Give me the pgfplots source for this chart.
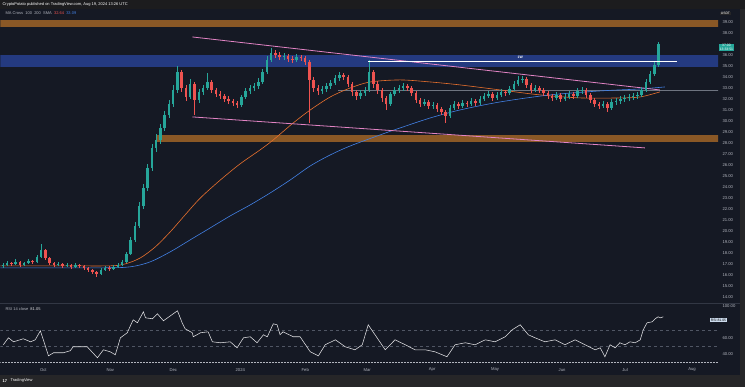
\documentclass[border=0pt]{standalone}
\usepackage{pgfplots}
\pgfplotsset{compat=1.18}
\usepackage{pgfplotstable}
\usepackage{fontspec}
\setmainfont{Liberation Sans}
\definecolor{chartbg}{RGB}{21,25,36}
\definecolor{framec}{RGB}{38,38,40}
\definecolor{headc}{RGB}{28,28,30}
\definecolor{sepc}{RGB}{50,55,68}
\definecolor{lblc}{RGB}{178,181,190}
\definecolor{upc}{RGB}{38,166,154}
\definecolor{dnc}{RGB}{239,83,80}
\definecolor{bandor}{RGB}{138,88,38}
\definecolor{bandbl}{RGB}{36,58,128}
\definecolor{maor}{RGB}{232,112,45}
\definecolor{mabl}{RGB}{66,128,228}
\definecolor{pinkc}{RGB}{226,132,196}
\definecolor{grayln}{RGB}{110,116,128}
\definecolor{rsic}{RGB}{225,225,228}
\definecolor{lvlc}{RGB}{80,86,100}
\newcommand{\lbl}{\fontsize{4.2}{5}\selectfont}
\pgfplotstableread{
i o h l c
0 44 47 42 45
1 45 49 44 47
2 47 48 44 46
3 46 51 45 48
4 48 49 43 45
5 45 48 44 47
6 47 51 46 49
7 49 50 46 48
8 48 55 47 53
9 53 66 52 60
10 60 61 50 52
11 52 53 45 47
12 47 48 43 45
13 45 48 44 46
14 46 47 42 44
15 44 47 43 45
16 45 46 41 43
17 43 47 42 45
18 45 46 42 44
19 44 45 40 42
20 42 43 38 40
21 40 41 36 38
22 38 39 33 36
23 36 42 35 40
24 40 44 39 42
25 42 44 39 41
26 41 45 40 43
27 43 47 42 45
28 45 50 44 48
29 48 58 47 56
30 56 73 55 70
31 70 88 68 84
32 84 108 82 104
33 104 126 101 122
34 122 146 119 142
35 142 166 139 162
36 162 176 158 170
37 170 186 166 182
38 182 199 179 195
39 195 210 192 206
40 206 225 203 220
41 220 244 217 238
42 238 240 218 222
43 222 225 209 213
44 213 231 211 226
45 226 228 195 210
46 210 221 207 218
47 218 225 215 222
48 222 237 220 228
49 228 230 217 220
50 220 222 213 216
51 216 219 211 214
52 214 216 208 211
53 211 214 206 209
54 209 211 204 207
55 207 209 202 205
56 205 215 203 213
57 213 222 211 219
58 219 225 216 222
59 222 227 219 224
60 224 232 221 228
61 228 241 226 238
62 238 254 236 250
63 250 262 248 257
64 257 260 252 255
65 255 258 250 253
66 253 257 250 254
67 254 256 248 251
68 251 254 247 250
69 250 256 248 253
70 253 255 249 252
71 252 254 245 248
72 248 250 187 230
73 230 233 218 222
74 222 225 215 219
75 219 224 216 221
76 221 227 218 224
77 224 230 221 227
78 227 235 225 232
79 232 238 229 235
80 235 237 230 233
81 233 235 223 226
82 226 228 214 218
83 218 220 210 214
84 214 220 211 217
85 217 223 214 220
86 220 250 218 238
87 238 240 222 226
88 226 229 216 220
89 220 222 208 212
90 212 214 200 206
91 206 218 204 216
92 216 223 214 220
93 220 225 217 222
94 222 227 219 224
95 224 226 219 222
96 222 224 214 217
97 217 219 207 210
98 210 212 203 206
99 206 211 204 208
100 208 210 201 204
101 204 208 201 205
102 205 207 198 201
103 201 203 195 198
104 198 200 187 194
105 194 205 192 202
106 202 209 200 206
107 206 208 201 204
108 204 210 202 207
109 207 209 203 206
110 206 212 204 209
111 209 211 204 207
112 207 214 205 211
113 211 217 209 214
114 214 219 212 216
115 216 218 209 212
116 212 218 210 215
117 215 221 213 218
118 218 220 214 217
119 217 224 215 221
120 221 229 219 226
121 226 234 224 230
122 230 234 227 231
123 231 233 222 225
124 225 227 217 220
125 220 225 218 222
126 222 224 217 220
127 220 222 214 217
128 217 219 211 214
129 214 216 209 212
130 212 218 210 215
131 215 217 208 211
132 211 216 209 213
133 213 219 211 216
134 216 218 211 214
135 214 222 212 219
136 219 223 216 220
137 220 222 212 215
138 215 217 207 210
139 210 212 203 206
140 206 208 201 204
141 204 209 202 206
142 206 208 198 202
143 202 211 200 208
144 208 212 205 209
145 209 214 206 211
146 211 215 208 212
147 212 216 209 213
148 213 217 210 214
149 214 218 211 215
150 215 223 213 220
151 220 231 218 228
152 228 239 226 236
153 236 248 234 245
154 245 268 243 266
}\candles
\pgfplotsset{
  candle/.style 2 args={#1, only marks, mark=none, mark size=0pt, forget plot,
    error bars/.cd, y dir=both, y explicit, error mark=none,
    error bar style={color=#1, line width=#2, line cap=butt}},
}
\begin{document}
\begin{tikzpicture}
\fill[chartbg] (0pt,0pt) rectangle (745pt,387pt);
\fill[framec] (0pt,0pt) rectangle (745pt,12pt);
\fill[framec] (740pt,0pt) rectangle (745pt,387pt);
\fill[headc] (0pt,378pt) rectangle (745pt,387pt);
\draw[sepc, line width=0.8pt] (0pt,83pt) -- (740pt,83pt);
% ---------- price pane ----------
\begin{axis}[
  at={(0pt,83pt)}, anchor=south west, scale only axis,
  width=718pt, height=295pt,
  xmin=-0.587, xmax=167.96, ymin=6, ymax=301,
  axis line style={draw=none}, tick style={draw=none},
  major tick length=0pt,
  xtick=\empty,
  ytick={13,24,...,288},
  yticklabels={14.00,15.00,16.00,17.00,18.00,19.00,20.00,21.00,22.00,23.00,24.00,25.00,26.00,27.00,28.00,29.00,30.00,31.00,32.00,33.00,34.00,35.00,36.00,{},38.00,39.00},
  yticklabel pos=right,
  yticklabel style={font=\lbl, text=lblc, anchor=west, xshift=1pt},
  /pgf/number format/assume math mode=true,
  clip=true,
]
% zones
\addplot[fill=bandor, draw=none, forget plot] coordinates {(-2,283) (170,283) (170,289.5) (-2,289.5)};
\addplot[fill=bandbl, draw=none, forget plot] coordinates {(-2,243) (170,243) (170,255) (-2,255)};
\addplot[fill=bandor, draw=none, forget plot] coordinates {(36.3,168) (170,168) (170,175) (36.3,175)};
% horizontal levels
\addplot[grayln, line width=1.1pt, forget plot] coordinates {(78.8,219) (170,219)};
% moving averages
\addplot[maor, line width=0.6pt, smooth, forget plot] coordinates {
(-0.6,44) (13.5,44) (25.2,44) (28.8,46) (32.3,52) (35.8,63) (39.3,78) (42.8,95) (46.4,112)
(51.1,130) (55.7,146) (60.4,160) (63.5,170) (68.2,187) (72.2,200) (76.9,213) (81.6,222)
(86.3,228) (93.3,230) (100.3,228) (107.4,225) (116.8,220) (126.2,215) (135.6,212) (145.0,212)
(149.7,213) (154.3,218)};
\addplot[mabl, line width=0.6pt, smooth, forget plot] coordinates {
(-0.6,42) (22.9,42) (29.9,43) (34.6,48) (39.3,58) (44.0,70) (48.7,82) (53.4,94) (58.1,105)
(62.8,117) (67.5,130) (72.2,144) (76.9,155) (81.6,164) (88.6,175) (93.3,182) (100.4,192)
(107.4,200) (116.8,208) (128.5,215) (140.3,219) (149.7,221) (155.5,223)};
% trendlines
\addplot[pinkc, line width=0.8pt, forget plot] coordinates {(44.5,273) (154.3,220)};
\addplot[pinkc, line width=0.8pt, forget plot] coordinates {(44.5,193) (150.8,162)};
% candles: wicks
\addplot[candle={upc}{0.5pt}]
  table[x=i, y expr={ifthenelse(\thisrow{c}>\thisrow{o},(\thisrow{h}+\thisrow{l})/2,-1000)},
        y error expr={(\thisrow{h}-\thisrow{l})/2}] {\candles};
\addplot[candle={dnc}{0.5pt}]
  table[x=i, y expr={ifthenelse(\thisrow{c}<\thisrow{o},(\thisrow{h}+\thisrow{l})/2,-1000)},
        y error expr={(\thisrow{h}-\thisrow{l})/2}] {\candles};
% candles: bodies
\addplot[candle={upc}{2.5pt}]
  table[x=i, y expr={ifthenelse(\thisrow{c}>\thisrow{o},(\thisrow{o}+\thisrow{c})/2,-1000)},
        y error expr={abs(\thisrow{c}-\thisrow{o})/2}] {\candles};
\addplot[candle={dnc}{2.5pt}]
  table[x=i, y expr={ifthenelse(\thisrow{c}<\thisrow{o},(\thisrow{o}+\thisrow{c})/2,-1000)},
        y error expr={abs(\thisrow{c}-\thisrow{o})/2}] {\candles};
% white resistance line
\addplot[white, line width=0.8pt, forget plot] coordinates {(85.8,249) (158.3,249)};
\node[text=white, font=\fontsize{3.4}{4}\selectfont\bfseries, inner sep=0.5pt] at (axis cs:121.5,252.5) {1W};
\end{axis}
% ---------- RSI pane ----------
\begin{axis}[
  at={(0pt,23pt)}, anchor=south west, scale only axis,
  width=718pt, height=60pt,
  xmin=-0.587, xmax=167.96, ymin=27.5, ymax=102.5,
  axis line style={draw=none}, tick style={draw=none},
  major tick length=0pt,
  xtick={9.51,25.23,40.02,55.75,71.01,85.56,100.82,115.61,131.34,146.13,161.86},
  xticklabels={Oct,Nov,Dec,2024,Feb,Mar,Apr,May,Jun,Jul,Aug},
  xticklabel style={font=\lbl, text=lblc, anchor=center, yshift=-6pt},
  ytick={40,60,100},
  yticklabels={40.00,60.00,100.00},
  yticklabel pos=right,
  yticklabel style={font=\lbl, text=lblc, anchor=west, xshift=1pt},
  /pgf/number format/assume math mode=true,
  clip=true,
]
\addplot[lvlc, dashed, line width=0.4pt, forget plot] coordinates {(-2,70) (170,70)};
\addplot[lvlc, dashed, line width=0.4pt, forget plot] coordinates {(-2,50) (170,50)};
\addplot[lblc, densely dotted, line width=0.5pt, forget plot] coordinates {(-2,30) (170,30)};
\addplot[rsic, line width=0.55pt, forget plot] coordinates {
(0.1,51.3) (1.3,60) (2.5,55) (4.8,58.8) (6.5,55) (7.6,57.5) (8.8,68.8) (9.5,57.5) (10.7,37.5)
(11.9,41.3) (14.2,41.3) (15.8,43.8) (16.5,48.8) (19.8,48.8) (22.2,35) (23.6,45) (25.2,42.5)
(26.4,38.8) (27.6,60) (29.2,66.3) (30.6,82.5) (31.6,78.8) (33.0,92.5) (33.5,85) (35.1,83.8)
(36.3,90) (37.7,81.3) (41.0,93.8) (42.1,78.8) (42.8,71.3) (44.5,66.3) (44.7,61.3) (46.4,66.3)
(48.2,67.5) (49.2,55) (51.1,53.8) (53.4,55) (55.0,47.5) (56.5,60) (58.1,61.3) (59.7,53.8)
(61.2,63.8) (62.1,61.3) (63.5,77.5) (64.4,76.3) (65.1,63.8) (65.8,67.5) (68.2,61.3) (69.8,61.3)
(72.2,42.5) (74.1,37.5) (75.7,51.3) (78.1,57.5) (80.4,48.8) (82.7,45) (84.4,51.3) (85.8,76.3)
(87.4,63.8) (89.8,45) (92.1,57.5) (94.5,51.3) (96.8,45) (99.2,45) (101.5,42.5) (104.3,36.3)
(106.2,51.3) (108.6,53.8) (110.9,51.3) (113.3,57.5) (115.6,55) (118.0,61.3) (119.6,70)
(121.5,76.3) (123.4,63.8) (125.0,60) (127.3,55) (129.7,57.5) (132.0,51.3) (134.4,57.5)
(136.7,51.3) (139.1,45) (140.3,47.5) (141.4,36.3) (142.6,51.3) (143.8,47.5) (144.9,53.8)
(146.1,51.3) (147.3,55) (148.5,53.8) (149.7,57.5) (150.4,70) (151.3,78.8) (152.5,80)
(153.2,83.8) (153.9,86.3) (154.4,85) (155.1,86.3)};
\end{axis}
% ---------- overlays and texts ----------
\node[fill=upc, text=white, font=\fontsize{3.4}{3.9}\selectfont, inner sep=0.6pt, align=center, anchor=west] at (719pt,339.5pt) {37.00\\ 13:33:51};
\node[fill=framec, text=white, font=\fontsize{3.4}{4}\selectfont, inner sep=0.6pt, anchor=west] at (720pt,373.5pt) {USDT};
\node[fill={rgb,255:red,205;green,220;blue,238}, text=black, font=\fontsize{3.4}{4}\selectfont, inner sep=0.7pt, anchor=west] at (710pt,66.5pt) {RSI\ 81.05};
\node[text=white, font=\fontsize{4}{5}\selectfont, anchor=west, inner sep=0pt] at (2pt,382.5pt) {CryptoPotato published on TradingView.com, Aug 19, 2024 13:26 UTC};
\node[text=lblc, font=\fontsize{4}{5}\selectfont, anchor=west, inner sep=0pt] at (5pt,374pt) {MA Cross \ 100 \ 200 \ SMA \ \textcolor{dnc}{32.64} \ \textcolor{mabl}{33.09}};
\node[text=lblc, font=\fontsize{4}{5}\selectfont, anchor=west, inner sep=0pt] at (5pt,78pt) {RSI 14 close \ \textcolor{rsic}{81.05}};
\node[text=white, font=\fontsize{4}{5}\selectfont\bfseries, anchor=west, inner sep=0pt] at (2pt,6pt) {17};
\node[text=white, font=\fontsize{4}{5}\selectfont, anchor=west, inner sep=0pt] at (10pt,6pt) {TradingView};
\end{tikzpicture}
\end{document}
